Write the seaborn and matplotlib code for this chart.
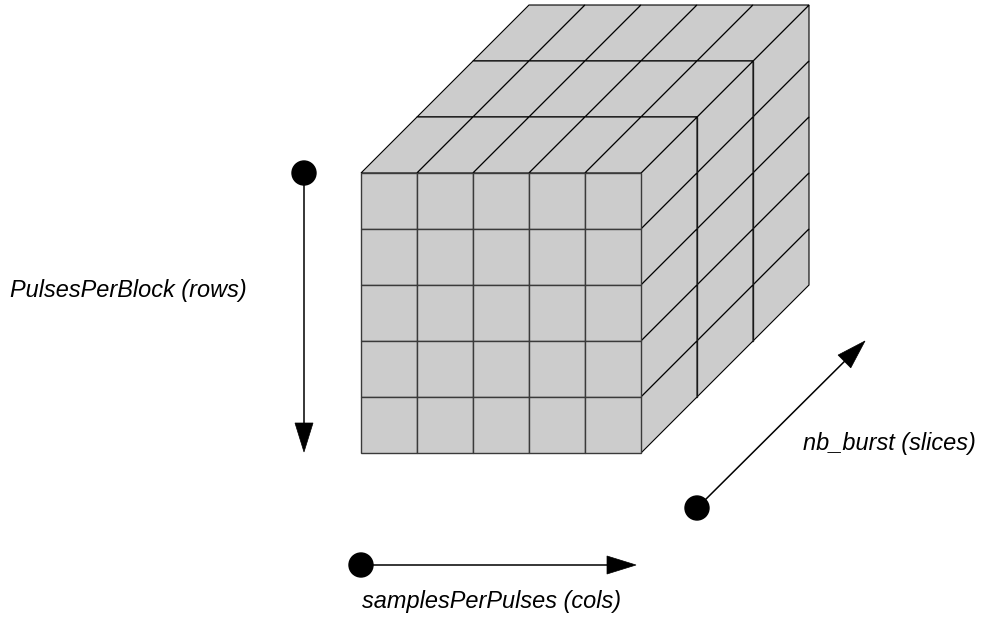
import numpy as np
import matplotlib
matplotlib.use("Agg")
from matplotlib import pyplot as plt
import matplotlib.patches as mpatches
import seaborn as sns

# cube dimensions (cells)
n_rows = 5      # PulsesPerBlock
n_cols = 5      # samplesPerPulses
n_slices = 3    # nb_burst

labels = ["PulsesPerBlock (rows)", "samplesPerPulses (cols)", "nb_burst (slices)"]

# layout (pixels, y down)
cell = 56
front_x0, front_y0 = 361, 173
fill = "#cccccc"

# arrows: (start, end)
arrow_rows = ((304, 173), (304, 452))
arrow_cols = ((361, 565), (636, 565))
arrow_slices = ((697, 508), (865, 341))

sns.set_style("white")
plt.rcParams['font.family'] = ['Liberation Sans', 'DejaVu Sans']

fig = plt.figure(figsize=(9.82, 6.19), dpi=100)
ax = fig.add_axes([0, 0, 1, 1])
ax.set_xlim(0, 982)
ax.set_ylim(619, 0)
ax.set_aspect("equal")
ax.axis("off")


def poly(pts, ec="black", lw=0.8, z=1):
    ax.add_patch(mpatches.Polygon(pts, closed=True, facecolor=fill,
                                  edgecolor=ec, linewidth=lw, zorder=z))


# draw slices back to front
for k in range(n_slices - 1, -1, -1):
    ox = front_x0 + k * cell
    oy = front_y0 - k * cell
    z = 1 + (n_slices - k)
    # right face
    rx = ox + n_cols * cell
    for r in range(n_rows):
        y0 = oy + r * cell
        poly([(rx, y0), (rx + cell, y0 - cell), (rx + cell, y0),
              (rx, y0 + cell)], z=z)
    # top face
    for c in range(n_cols):
        x0 = ox + c * cell
        poly([(x0, oy), (x0 + cell, oy - cell), (x0 + 2 * cell, oy - cell),
              (x0 + cell, oy)], z=z)
    # front face
    for r in range(n_rows):
        for c in range(n_cols):
            x0 = ox + c * cell
            y0 = oy + r * cell
            poly([(x0, y0), (x0 + cell, y0), (x0 + cell, y0 + cell),
                  (x0, y0 + cell)], ec="#3a3a3a", lw=1.0, z=z)


def arrow(start, end):
    (x0, y0), (x1, y1) = start, end
    d = np.array([x1 - x0, y1 - y0], dtype=float)
    L = np.hypot(*d)
    u = d / L
    n = np.array([-u[1], u[0]])
    head_len, head_w = 29, 18
    base = np.array([x1, y1]) - u * head_len
    ax.plot([x0, base[0]], [y0, base[1]], color="black", lw=1.1, zorder=10)
    ax.add_patch(mpatches.Polygon([tuple(base + n * head_w / 2), (x1, y1),
                                   tuple(base - n * head_w / 2)],
                                  closed=True, facecolor="black",
                                  edgecolor="black", lw=0.5, zorder=11))
    ax.add_patch(mpatches.Circle((x0, y0), 12, facecolor="black",
                                 edgecolor="black", zorder=11))


arrow(*arrow_rows)
arrow(*arrow_cols)
arrow(*arrow_slices)

fs = 16.9
ax.text(128, 297, labels[0], fontsize=fs, style="italic", ha="center",
        va="baseline", color="black")
ax.text(492, 608, labels[1], fontsize=fs, style="italic", ha="center",
        va="baseline", color="black")
ax.text(889, 450, labels[2], fontsize=fs, style="italic", ha="center",
        va="baseline", color="black")

fig.savefig("out.png", dpi=100)
